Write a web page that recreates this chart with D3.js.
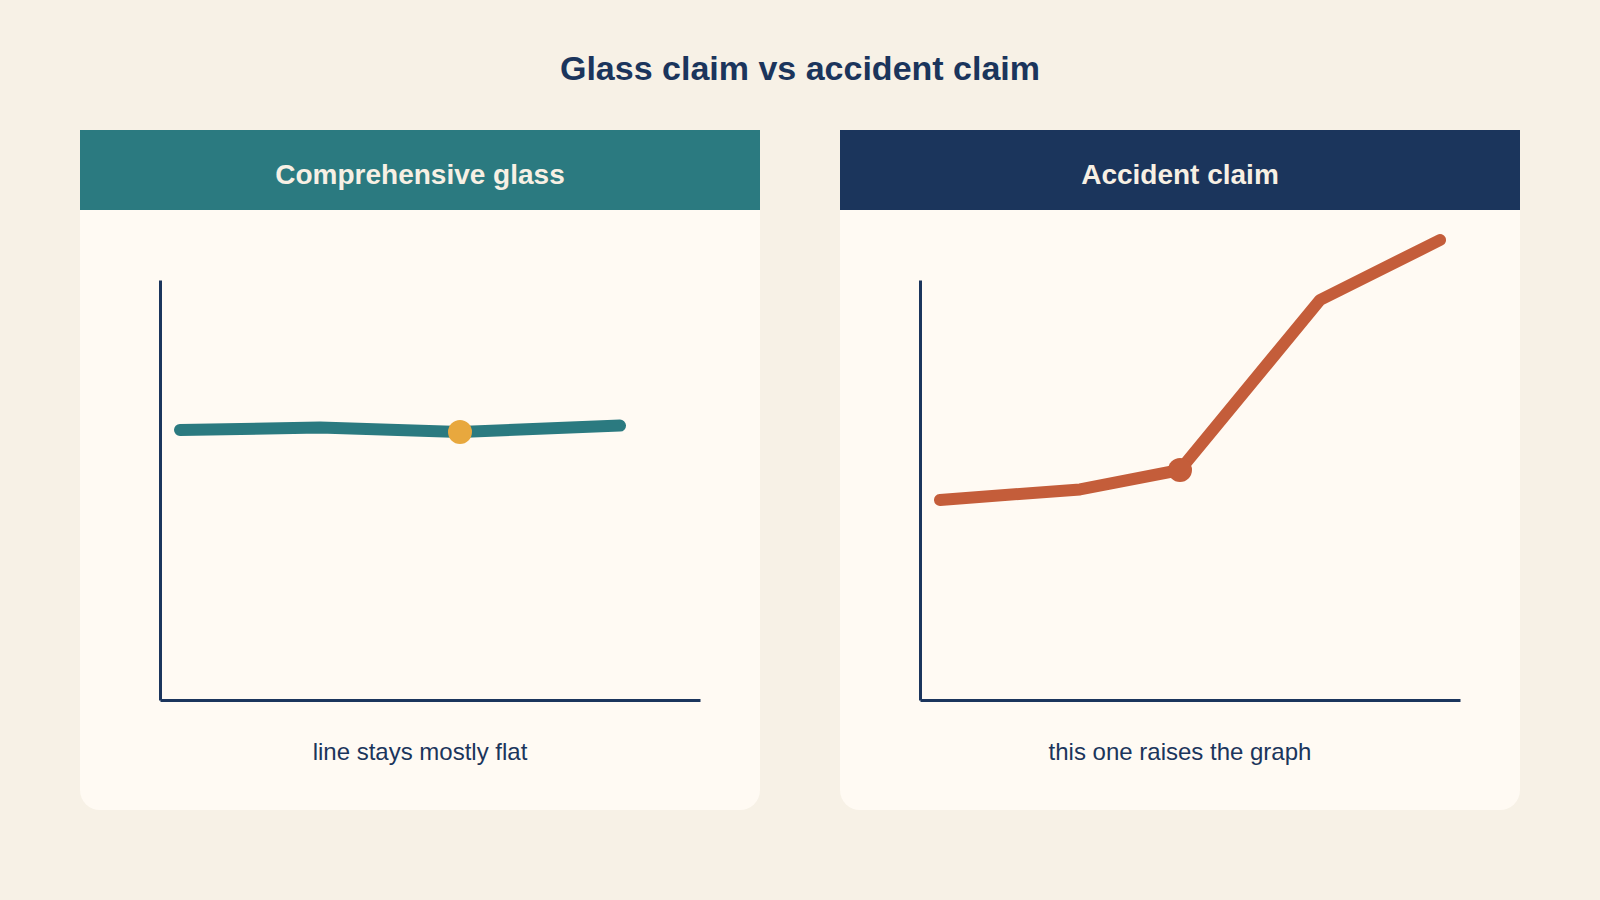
<!DOCTYPE html>
<html>
<head>
<meta charset="utf-8">
<script src="https://cdn.jsdelivr.net/npm/d3@7"></script>
<style>
  html, body { margin: 0; padding: 0; background: #f7f1e6; }
  svg { display: block; font-family: "Liberation Sans", Arial, sans-serif; }
</style>
</head>
<body>
<div id="chart"></div>
<script>
const chartTitle = "Glass claim vs accident claim";
const panelTitles = ["Comprehensive glass", "Accident claim"];
const panelCaptions = ["line stays mostly flat", "this one raises the graph"];

// x / y values (arbitrary units)
const glassX = [1, 8, 15, 23];
const glassY = [13.5, 13.62, 13.4, 13.72];
const accidentX = [1, 8, 13, 20, 26];
const accidentY = [10, 10.53, 11.5, 20, 23];
// index of the highlighted point in each series
const highlightIndex = [2, 2];

const width = 1600;
const height = 900;
const cardW = 680;
const cardH = 680;
const cardTop = 130;
const headerH = 80;

const colors = {
    navy: "#1b355c",
    teal: "#2b7a80",
    rust: "#c45d3a",
    gold: "#e8a83e",
    card: "#fffaf3",
    cream: "#f7f0e4"
};

const panels = [
    { title: panelTitles[0], caption: panelCaptions[0], xs: glassX, ys: glassY,
      header: colors.teal, line: colors.teal, dot: colors.gold, hi: highlightIndex[0] },
    { title: panelTitles[1], caption: panelCaptions[1], xs: accidentX, ys: accidentY,
      header: colors.navy, line: colors.rust, dot: colors.rust, hi: highlightIndex[1] }
];

const svg = d3.select("#chart")
    .append("svg")
    .attr("width", width)
    .attr("height", height)
    .attr("viewBox", `0 0 ${width} ${height}`);

svg.append("rect")
    .attr("width", width)
    .attr("height", height)
    .attr("fill", "#f7f1e6");

svg.append("text")
    .attr("x", width / 2)
    .attr("y", 80)
    .attr("text-anchor", "middle")
    .attr("font-size", 34)
    .attr("font-weight", "bold")
    .attr("fill", colors.navy)
    .text(chartTitle);

// plot area inside each card
const plotLeft = 80;
const plotRight = 620;
const plotTop = 150;
const plotBottom = 570;

const x = d3.scaleLinear().domain([0, 27]).range([plotLeft, plotRight]);
const y = d3.scaleLinear().domain([0, 21]).range([plotBottom, plotTop]);

const line = d3.line()
    .x(d => x(d[0]))
    .y(d => y(d[1]));

panels.forEach((p, i) => {
    const cardX = 80 + i * (cardW + 80);
    const g = svg.append("g").attr("transform", `translate(${cardX}, ${cardTop})`);

    g.append("rect")
        .attr("width", cardW)
        .attr("height", cardH)
        .attr("rx", 20)
        .attr("fill", colors.card);

    g.append("rect")
        .attr("width", cardW)
        .attr("height", headerH)
        .attr("fill", p.header);

    g.append("text")
        .attr("x", cardW / 2)
        .attr("y", 54)
        .attr("text-anchor", "middle")
        .attr("font-size", 28)
        .attr("font-weight", "bold")
        .attr("fill", colors.cream)
        .text(p.title);

    // bare axes, no ticks
    g.append("g")
        .attr("transform", `translate(0, ${plotBottom})`)
        .call(d3.axisBottom(x).ticks(0).tickSize(0).tickFormat(""))
        .call(a => a.select(".domain").attr("stroke", colors.navy).attr("stroke-width", 3));

    g.append("g")
        .attr("transform", `translate(${plotLeft}, 0)`)
        .call(d3.axisLeft(y).ticks(0).tickSize(0).tickFormat(""))
        .call(a => a.select(".domain").attr("stroke", colors.navy).attr("stroke-width", 3));

    const pts = p.xs.map((v, k) => [v, p.ys[k]]);

    g.append("path")
        .datum(pts)
        .attr("d", line)
        .attr("fill", "none")
        .attr("stroke", p.line)
        .attr("stroke-width", 12)
        .attr("stroke-linecap", "round")
        .attr("stroke-linejoin", "round");

    g.append("circle")
        .attr("cx", x(pts[p.hi][0]))
        .attr("cy", y(pts[p.hi][1]))
        .attr("r", 12)
        .attr("fill", p.dot);

    g.append("text")
        .attr("x", cardW / 2)
        .attr("y", 630)
        .attr("text-anchor", "middle")
        .attr("font-size", 24)
        .attr("fill", colors.navy)
        .text(p.caption);
});
</script>
</body>
</html>
